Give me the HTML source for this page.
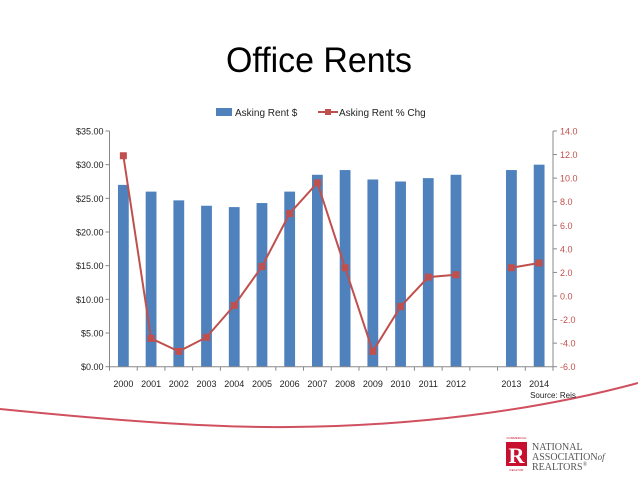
<!DOCTYPE html>
<html><head><meta charset="utf-8"><style>
html,body{margin:0;padding:0;background:#fff;}
svg{display:block;font-family:"Liberation Sans",sans-serif;}
</style></head><body>
<svg width="638" height="479" viewBox="0 0 638 479" xmlns="http://www.w3.org/2000/svg">
<text x="319" y="72" text-anchor="middle" font-size="35" fill="#000" textLength="186" lengthAdjust="spacingAndGlyphs">Office Rents</text>
<!-- legend -->
<rect x="216" y="108" width="16" height="8" fill="#4f81bd"/>
<text x="235" y="116" font-size="10" fill="#222">Asking Rent $</text>
<line x1="318" y1="112" x2="338" y2="112" stroke="#c0504d" stroke-width="2"/>
<rect x="325" y="109" width="6" height="6" fill="#c0504d"/>
<text x="339" y="116" font-size="10" fill="#222">Asking Rent % Chg</text>
<g id="plot">
</g>
<!-- axes -->
<line x1="109.5" y1="131" x2="109.5" y2="366.7" stroke="#888"/>
<line x1="553" y1="131" x2="553" y2="366.7" stroke="#888"/>
<line x1="109.5" y1="366.7" x2="553" y2="366.7" stroke="#888"/>
<g id="ticks" font-size="9"></g>
<path d="M0,409 C110,420 210,428 290,427 C410,426 530,412 638,383" fill="none" stroke="#d05060" stroke-width="2"/>
<text x="553" y="398" font-size="8" fill="#222" text-anchor="middle">Source: Reis</text>
<!-- logo -->
<rect x="506" y="442" width="21" height="24" fill="#c8102e"/>
<text x="516.5" y="463" font-size="22" font-weight="bold" fill="#fff" text-anchor="middle" font-family="Liberation Serif,serif">R</text>
<text x="516.5" y="439" font-size="3" fill="#c8102e" text-anchor="middle">COMMERCIAL</text>
<text x="516.5" y="471" font-size="3" fill="#c8102e" text-anchor="middle">REALTOR</text>
<g font-family="Liberation Serif,serif" font-size="10" fill="#555">
<text x="532" y="450">NATIONAL</text>
<text x="532" y="460">ASSOCIATION<tspan font-style="italic" font-size="9">of</tspan></text>
<text x="532" y="470">REALTORS<tspan font-size="6" dy="-4">®</tspan></text>
</g>
<script>
(function(){
var ns="http://www.w3.org/2000/svg";
var p=document.getElementById("plot"),t=document.getElementById("ticks");
function el(n,a,par){var e=document.createElementNS(ns,n);for(var k in a)e.setAttribute(k,a[k]);(par||p).appendChild(e);return e;}
var L=109.5,R=553,T=131,B=366.7,sw=(R-L)/16;
var rent=[27,26,24.7,23.9,23.7,24.3,26,28.5,29.2,27.8,27.5,28,28.5,null,29.2,30];
var pct=[11.9,-3.6,-4.7,-3.5,-0.8,2.5,7,9.6,2.4,-4.7,-0.9,1.6,1.8,null,2.4,2.8];
var yrs=["2000","2001","2002","2003","2004","2005","2006","2007","2008","2009","2010","2011","2012","","2013","2014"];
function yl(v){return B-(v/35)*(B-T);}function yr(v){return B-((v+6)/20)*(B-T);}
for(var i=0;i<16;i++){var cx=L+sw*(i+0.5);
 if(rent[i]!=null)el("rect",{x:cx-5.4,y:yl(rent[i]),width:10.8,height:B-yl(rent[i]),fill:"#4f81bd"});
 var tx=el("text",{x:cx,y:387,"text-anchor":"middle",fill:"#222"},t);tx.textContent=yrs[i];
 el("line",{x1:L+sw*i,y1:B,x2:L+sw*i,y2:B+4,stroke:"#888"},t);}
el("line",{x1:R,y1:B,x2:R,y2:B+4,stroke:"#888"},t);
var d="";for(var i=0;i<13;i++){d+=(i?"L":"M")+(L+sw*(i+0.5))+","+yr(pct[i]);}
d+="M"+(L+sw*14.5)+","+yr(pct[14])+"L"+(L+sw*15.5)+","+yr(pct[15]);
el("path",{d:d,fill:"none",stroke:"#c0504d","stroke-width":2});
for(var i=0;i<16;i++)if(pct[i]!=null){var cx=L+sw*(i+0.5);el("rect",{x:cx-3.5,y:yr(pct[i])-3.5,width:7,height:7,fill:"#c0504d"});}
for(var v=0;v<=35;v+=5){var y=yl(v);el("line",{x1:L-4,y1:y,x2:L,y2:y,stroke:"#888"},t);
 var s=el("text",{x:L-6,y:y+3.5,"text-anchor":"end",fill:"#222"},t);s.textContent="$"+v.toFixed(2);}
for(var v=-6;v<=14;v+=2){var y=yr(v);el("line",{x1:R,y1:y,x2:R+4,y2:y,stroke:"#888"},t);
 var s=el("text",{x:R+7,y:y+3.5,fill:"#c0504d"},t);s.textContent=v.toFixed(1);}
})();
</script>
</svg>
</body></html>
